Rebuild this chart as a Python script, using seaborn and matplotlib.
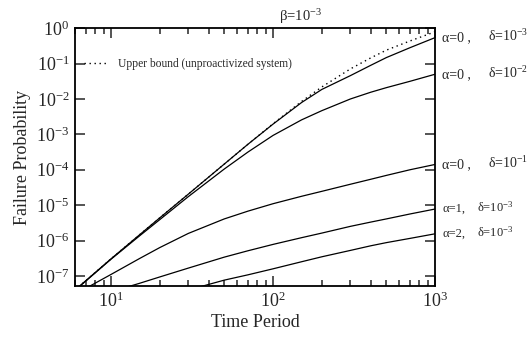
import numpy as np
import pandas as pd
import seaborn as sns
import matplotlib
matplotlib.use('Agg')
import matplotlib.pyplot as plt
from matplotlib.ticker import NullLocator, NullFormatter

# values (log10 of failure probability)
time_period = [6, 10, 15, 20, 30, 50, 70, 100, 150, 200, 300, 400, 500, 700, 1000]
upper_bound = [-7.40, -6.52, -5.84, -5.36, -4.69, -3.84, -3.28, -2.70, -2.07, -1.66, -1.15, -0.84, -0.62, -0.36, -0.10]
a0_d3 = [-7.40, -6.52, -5.84, -5.36, -4.69, -3.84, -3.28, -2.71, -2.10, -1.73, -1.34, -1.05, -0.83, -0.55, -0.265]
a0_d2 = [-7.41, -6.53, -5.87, -5.41, -4.76, -3.98, -3.50, -3.03, -2.59, -2.33, -2.00, -1.81, -1.68, -1.50, -1.30]
a0_d1 = [-7.52, -6.96, -6.51, -6.20, -5.80, -5.39, -5.17, -4.96, -4.75, -4.61, -4.41, -4.27, -4.16, -4.00, -3.85]
a1_d3 = [-7.75, -7.45, -7.21, -7.03, -6.78, -6.47, -6.29, -6.11, -5.92, -5.79, -5.60, -5.48, -5.39, -5.25, -5.11]
a2_d3 = [-8.20, -7.95, -7.75, -7.62, -7.40, -7.12, -6.97, -6.80, -6.60, -6.46, -6.28, -6.15, -6.06, -5.94, -5.81]

alpha_labels = ["α=0 ,", "α=0 ,", "α=0 ,", "α=1,", "α=2,"]
delta_labels = [r"δ=10$^{\mathregular{-3}}$", r"δ=10$^{\mathregular{-2}}$", r"δ=10$^{\mathregular{-1}}$",
                r"δ=10$^{\mathregular{-3}}$", r"δ=10$^{\mathregular{-3}}$"]

x_major = [10, 100, 1000]
y_major = [1e-7, 1e-6, 1e-5, 1e-4, 1e-3, 1e-2, 1e-1, 1]

sns.set_style("ticks")
plt.rcParams['font.family'] = ['Liberation Serif', 'DejaVu Serif']
plt.rcParams['mathtext.fontset'] = 'custom'
plt.rcParams['mathtext.rm'] = 'Liberation Serif'
plt.rcParams['mathtext.it'] = 'Liberation Serif:italic'

fig, ax = plt.subplots(figsize=(5.3, 3.4), dpi=100)
fig.subplots_adjust(left=0.1415, right=0.821, top=0.917, bottom=0.159)
ax.set_xscale('log')
ax.set_yscale('log')

df = pd.DataFrame({'T': time_period, 'ub': upper_bound, 'c1': a0_d3, 'c2': a0_d2,
                   'c3': a0_d1, 'c4': a1_d3, 'c5': a2_d3})

sns.lineplot(x=df['T'], y=10.0 ** df['ub'], color='k', lw=1.0, linestyle=(0, (1, 2.6)),
             ax=ax, label='Upper bound (unproactivized system)')
for col in ['c1', 'c2', 'c3', 'c4', 'c5']:
    sns.lineplot(x=df['T'], y=10.0 ** df[col], color='k', lw=0.9, ax=ax)

# ticks (only the ones inside the view)
x_minor = [m * d for d in [1, 10, 100] for m in range(2, 10) if 6 <= m * d < 1000]
ax.set_xticks(x_major)
ax.set_xticklabels([r"$\mathregular{10^{%d}}$" % int(np.log10(v)) for v in x_major])
ax.set_xticks(x_minor, minor=True)
ax.xaxis.set_minor_formatter(NullFormatter())
ax.set_yticks(y_major)
ax.set_yticklabels([r"$\mathregular{10^{%d}}$" % int(round(np.log10(v))) for v in y_major])
ax.yaxis.set_minor_locator(NullLocator())

ax.set_xlim(6, 1000)
ax.set_ylim(5.2e-8, 1)

ax.tick_params(which='both', direction='in', top=True, right=True, width=1.1, labelsize=13)
ax.tick_params(which='major', length=7, pad=4)
ax.tick_params(which='minor', length=4)
for s in ax.spines.values():
    s.set_linewidth(1.3)
    s.set_color('k')

ax.set_xlabel('Time Period', fontsize=13, labelpad=2)
ax.set_ylabel('Failure Probability', fontsize=13, labelpad=4)

ax.legend(loc='center left', bbox_to_anchor=(0.0, 0.86), frameon=False, fontsize=8.3,
          handlelength=2.0, handletextpad=0.9, borderaxespad=0.4)

ax.text(0.625, 1.01, r"β=10$^{\mathregular{-3}}$", transform=ax.transAxes,
        ha='center', va='bottom', fontsize=10.5)

ends = [a0_d3[-1], a0_d2[-1], a0_d1[-1], a1_d3[-1], a2_d3[-1]]
for i, (al, dl, e) in enumerate(zip(alpha_labels, delta_labels, ends)):
    fs = 10 if i < 3 else 9
    dx = 38 if i < 3 else 30
    ax.annotate(al, xy=(1000, 10.0 ** e), xytext=(5, 0), textcoords='offset points',
                ha='left', va='center', fontsize=fs, annotation_clip=False)
    ax.annotate(dl, xy=(1000, 10.0 ** e), xytext=(dx, 1), textcoords='offset points',
                ha='left', va='center', fontsize=fs, annotation_clip=False)

fig.savefig('out.png', dpi=100)
